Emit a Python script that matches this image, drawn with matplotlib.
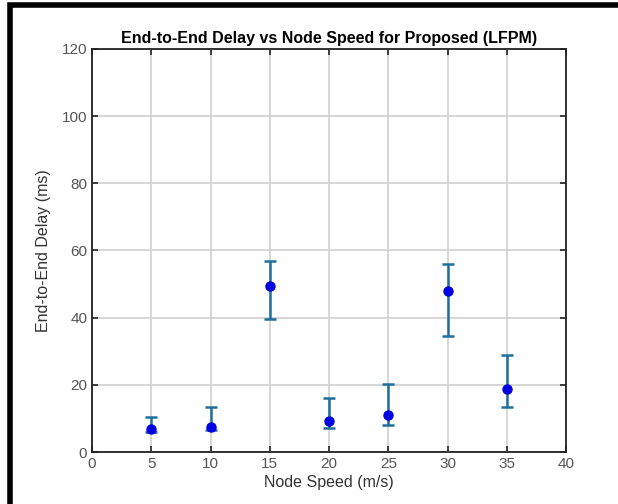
import matplotlib.pyplot as plt
from matplotlib.patches import Rectangle

plt.rcParams["font.family"] = ["Liberation Sans", "DejaVu Sans"]

speeds = [5, 10, 15, 20, 25, 30, 35]
delay = [7.0, 7.4, 49.3, 9.2, 11.0, 48.0, 18.8]
lower = [6.0, 6.5, 39.6, 7.1, 8.0, 34.5, 13.4]
upper = [10.4, 13.3, 57.0, 16.0, 20.4, 56.0, 29.0]

err_lo = [d - l for d, l in zip(delay, lower)]
err_hi = [u - d for d, u in zip(delay, upper)]

fig = plt.figure(figsize=(6.18, 5.04), dpi=100)
ax = fig.add_axes([0.149, 0.103, 0.767, 0.8])

ax.errorbar(speeds, delay, yerr=[err_lo, err_hi], fmt="none",
            ecolor="#1f6e9c", elinewidth=1.8, capsize=4.5, capthick=1.8, zorder=3)
ax.plot(speeds, delay, "o", color="#0000e0", markersize=6.5, zorder=4)

ax.set_xlim(0, 40)
ax.set_ylim(0, 120)
ax.set_xticks(range(0, 41, 5))
ax.set_yticks(range(0, 121, 20))
ax.grid(True, color="#d0d0d0", linewidth=1.2)
ax.set_axisbelow(True)
ax.tick_params(direction="in", top=True, right=True, length=4, width=1.2,
               labelsize=11, colors="#222222", labelcolor="#555555")
for s in ax.spines.values():
    s.set_linewidth(1.3)
    s.set_color("#222222")

ax.set_title("End-to-End Delay vs Node Speed for Proposed (LFPM)",
             fontsize=11.5, fontweight="bold", pad=4)
ax.set_xlabel("Node Speed (m/s)", fontsize=11.5, color="#333333", labelpad=3)
ax.set_ylabel("End-to-End Delay (ms)", fontsize=11.5, color="#333333", labelpad=8)

# black frame around the picture
fig.patches.append(Rectangle((0.016, -0.02), 1.1, 1.01, transform=fig.transFigure,
                             fill=False, edgecolor="black", linewidth=4))

fig.savefig("out.png", dpi=100)
